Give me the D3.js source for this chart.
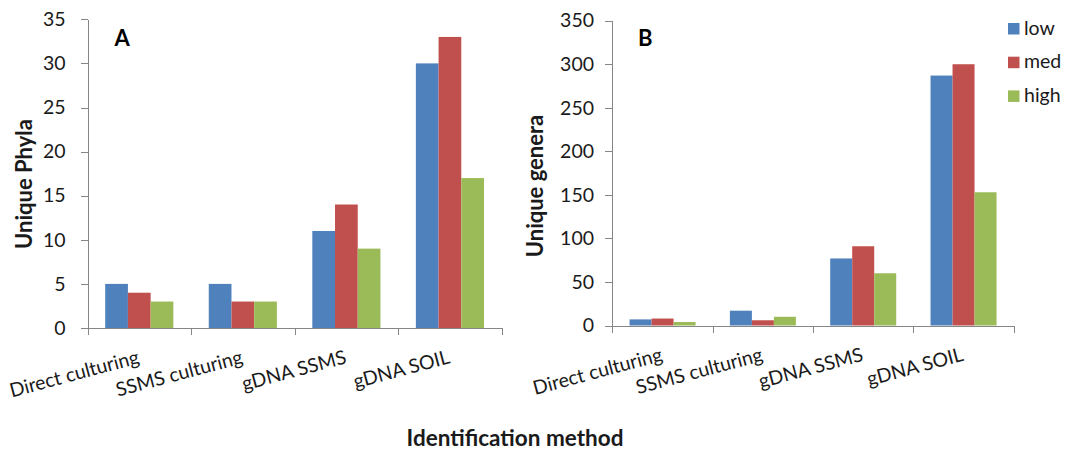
<!DOCTYPE html>
<html>
<head>
<meta charset="utf-8">
<script src="https://cdn.jsdelivr.net/npm/d3@7"></script>
<style>
  html, body { margin: 0; padding: 0; background: #fff; }
  svg { display: block; font-family: Lato, "Open Sans", sans-serif; }
</style>
</head>
<body>
<svg id="chart" width="1073" height="450"></svg>
<script>
// ---- data ----
const categories = ["Direct culturing", "SSMS culturing", "gDNA SSMS", "gDNA SOIL"];
const seriesNames = ["low", "med", "high"];
const seriesColors = ["#4F81BD", "#C0504D", "#9BBB59"];

const phylaLow  = [5, 5, 11, 30];
const phylaMed  = [4, 3, 14, 33];
const phylaHigh = [3, 3, 9, 17];

const generaLow  = [7, 17, 77, 287];
const generaMed  = [8, 6, 91, 300];
const generaHigh = [4, 10, 60, 153];

const phylaTicks  = [0, 5, 10, 15, 20, 25, 30, 35];
const generaTicks = [0, 50, 100, 150, 200, 250, 300, 350];

// ---- drawing ----
const svg = d3.select("#chart");
const axisColor = "#868686";

const panels = [
  { letter: "A", title: "Unique Phyla", values: [phylaLow, phylaMed, phylaHigh], ticks: phylaTicks,
    left: 87.5, right: 501.7, top: 19.3, bottom: 328, tickPad: 15,
    titleX: 32, titleY: 184, letterX: 114.5, letterY: 46 },
  { letter: "B", title: "Unique genera", values: [generaLow, generaMed, generaHigh], ticks: generaTicks,
    left: 612.4, right: 1013.7, top: 20.7, bottom: 325.5, tickPad: 11.4,
    titleX: 543, titleY: 186, letterX: 638, letterY: 45.5 }
];

panels.forEach(p => {
  const g = svg.append("g");
  const y = d3.scaleLinear().domain([0, d3.max(p.ticks)]).range([p.bottom, p.top]);
  const x0 = d3.scaleBand().domain(categories).range([p.left, p.right]).padding(0);
  const x1 = d3.scaleBand().domain(seriesNames).range([0, x0.bandwidth()]).paddingInner(0).paddingOuter(0.78);
  const xb = d3.scaleLinear().domain([0, categories.length]).range([p.left, p.right]);

  // bars
  seriesNames.forEach((s, si) => {
    g.append("g").selectAll("rect")
      .data(categories.map((c, ci) => ({ c, v: p.values[si][ci] })))
      .join("rect")
      .attr("x", d => x0(d.c) + x1(s))
      .attr("y", d => y(d.v))
      .attr("width", x1.bandwidth())
      .attr("height", d => y(0) - y(d.v))
      .attr("fill", seriesColors[si]);
  });

  // y axis
  const ya = g.append("g").attr("transform", `translate(${p.left},0)`)
    .call(d3.axisLeft(y).tickValues(p.ticks).tickSize(7).tickSizeOuter(0).tickPadding(p.tickPad));
  ya.selectAll("path, line").attr("stroke", axisColor).attr("shape-rendering", "crispEdges");
  ya.selectAll("text").attr("font-size", 19.5).attr("fill", "#1a1a1a").attr("font-family", "Lato");

  // x axis (category boundaries)
  const xa = g.append("g").attr("transform", `translate(0,${p.bottom})`)
    .call(d3.axisBottom(xb).tickValues(d3.range(categories.length + 1)).tickSize(7).tickSizeOuter(0).tickFormat(""));
  xa.selectAll("path, line").attr("stroke", axisColor).attr("shape-rendering", "crispEdges");

  // category labels (rotated)
  g.append("g").selectAll("text")
    .data(categories)
    .join("text")
    .attr("transform", d => `translate(${x0(d) + x0.bandwidth() / 2 + 1},${p.bottom + 35}) rotate(-15)`)
    .attr("text-anchor", "end")
    .attr("font-size", 19.5)
    .attr("fill", "#1a1a1a")
    .text(d => d);

  // y title
  g.append("text")
    .attr("transform", `translate(${p.titleX},${p.titleY}) rotate(-90)`)
    .attr("text-anchor", "middle")
    .attr("font-size", 22)
    .attr("font-weight", "bold")
    .attr("fill", "#1a1a1a")
    .text(p.title);

  // panel letter
  g.append("text")
    .attr("x", p.letterX).attr("y", p.letterY)
    .attr("font-size", 22)
    .attr("font-weight", "bold")
    .attr("fill", "#000")
    .text(p.letter);
});

// legend
const legend = svg.append("g").attr("transform", "translate(1008,23)");
seriesNames.forEach((s, i) => {
  const row = legend.append("g").attr("transform", `translate(0,${i * 33.7})`);
  row.append("rect").attr("width", 11.5).attr("height", 11.5).attr("fill", seriesColors[i]);
  row.append("text").attr("x", 16).attr("y", 11.5).attr("font-size", 19.5).attr("fill", "#1a1a1a").text(s);
});

// shared x title
svg.append("text")
  .attr("x", 515).attr("y", 446)
  .attr("text-anchor", "middle")
  .attr("font-size", 22.5)
  .attr("font-weight", "bold")
  .attr("fill", "#1a1a1a")
  .text("Identification method");
</script>
</body>
</html>
